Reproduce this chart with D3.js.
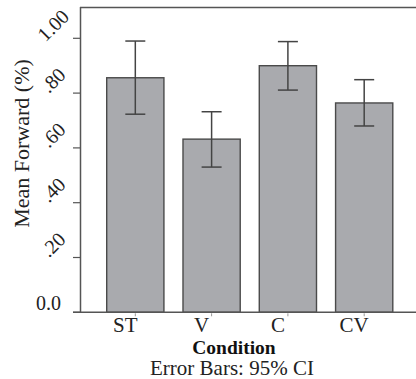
<!DOCTYPE html>
<html><head><meta charset="utf-8">
<script src="https://cdn.jsdelivr.net/npm/d3@7"></script>
<style>body{margin:0;background:#fff}svg{display:block}
text{font-family:"Liberation Serif","Times New Roman",Times,"DejaVu Serif",serif}</style>
</head><body>
<script>
const categories = ["ST", "V", "C", "CV"];
const means = [0.856, 0.632, 0.900, 0.764];
const ciLow = [0.723, 0.530, 0.811, 0.680];
const ciHigh = [0.990, 0.732, 0.988, 0.849];
const yTicks = [0, 0.2, 0.4, 0.6, 0.8, 1.0];
const yTickLabels = ["0.0", ".20", ".40", ".60", ".80", "1.00"];

const W = 416, H = 379;
const svg = d3.select("body").append("svg").attr("width", W).attr("height", H);

const y = d3.scaleLinear().domain([0, 1]).range([312.3, 38.3]);
const x = d3.scaleBand().domain(categories).range([80, 419.5]).paddingInner(0.25).paddingOuter(0.35);

const axisCol = "#555";
svg.append("line").attr("x1", 80).attr("x2", W).attr("y1", 7.5).attr("y2", 7.5)
  .attr("stroke", axisCol).attr("stroke-width", 1.5);
svg.append("line").attr("x1", 80.5).attr("x2", 80.5).attr("y1", 7).attr("y2", y(0))
  .attr("stroke", axisCol).attr("stroke-width", 1.5);

svg.selectAll("rect.bar").data(categories).join("rect").attr("class", "bar")
  .attr("x", d => x(d)).attr("width", x.bandwidth())
  .attr("y", (d, i) => y(means[i])).attr("height", (d, i) => y(0) - y(means[i]))
  .attr("fill", "#a9aaae").attr("stroke", "#4a4a4a").attr("stroke-width", 1.4);

svg.append("line").attr("x1", 73).attr("x2", W).attr("y1", y(0)).attr("y2", y(0))
  .attr("stroke", axisCol).attr("stroke-width", 1.5);

svg.selectAll("line.yt").data(yTicks).join("line").attr("class", "yt")
  .attr("x1", 73).attr("x2", 80).attr("y1", d => y(d)).attr("y2", d => y(d))
  .attr("stroke", axisCol).attr("stroke-width", 1.2);

yTicks.forEach((t, i) => {
  if (i === 0) {
    svg.append("text").attr("x", 61).attr("y", y(t) - 2).attr("text-anchor", "end")
      .attr("font-size", 20).attr("fill", "#222").text(yTickLabels[i]);
  } else {
    const cx = 53, cy = y(t) - 13;
    svg.append("text").attr("transform", `translate(${cx},${cy}) rotate(-45)`)
      .attr("text-anchor", "middle").attr("dy", "0.35em")
      .attr("font-size", 20).attr("fill", "#222").text(yTickLabels[i]);
  }
});

svg.selectAll("line.xt").data(categories).join("line").attr("class", "xt")
  .attr("x1", d => x(d) + x.bandwidth() / 2).attr("x2", d => x(d) + x.bandwidth() / 2)
  .attr("y1", y(0) + 1).attr("y2", y(0) + 4)
  .attr("stroke", "#999").attr("stroke-width", 1);

svg.selectAll("text.xl").data(categories).join("text").attr("class", "xl")
  .attr("x", d => x(d) + x.bandwidth() / 2 - 10).attr("y", 332)
  .attr("text-anchor", "middle").attr("font-size", 21)
  .attr("fill", "#222").text(d => d);

const eb = svg.append("g").attr("stroke", "#444").attr("stroke-width", 1.5);
categories.forEach((c, i) => {
  const cx = x(c) + x.bandwidth() / 2;
  eb.append("line").attr("x1", cx).attr("x2", cx).attr("y1", y(ciHigh[i])).attr("y2", y(ciLow[i]));
  eb.append("line").attr("x1", cx - 10).attr("x2", cx + 10).attr("y1", y(ciHigh[i])).attr("y2", y(ciHigh[i]));
  eb.append("line").attr("x1", cx - 10).attr("x2", cx + 10).attr("y1", y(ciLow[i])).attr("y2", y(ciLow[i]));
});

svg.append("text").attr("transform", `translate(28.5,143.5) rotate(-90)`)
  .attr("text-anchor", "middle").attr("font-size", 22)
  .attr("fill", "#222").text("Mean Forward (%)");
svg.append("text").attr("x", 234).attr("y", 354).attr("text-anchor", "middle")
  .attr("font-size", 19.5).attr("font-weight", "bold")
  .attr("fill", "#111").text("Condition");
svg.append("text").attr("x", 232).attr("y", 375).attr("text-anchor", "middle")
  .attr("font-size", 21)
  .attr("fill", "#222").text("Error Bars: 95% CI");
</script>
</body></html>
